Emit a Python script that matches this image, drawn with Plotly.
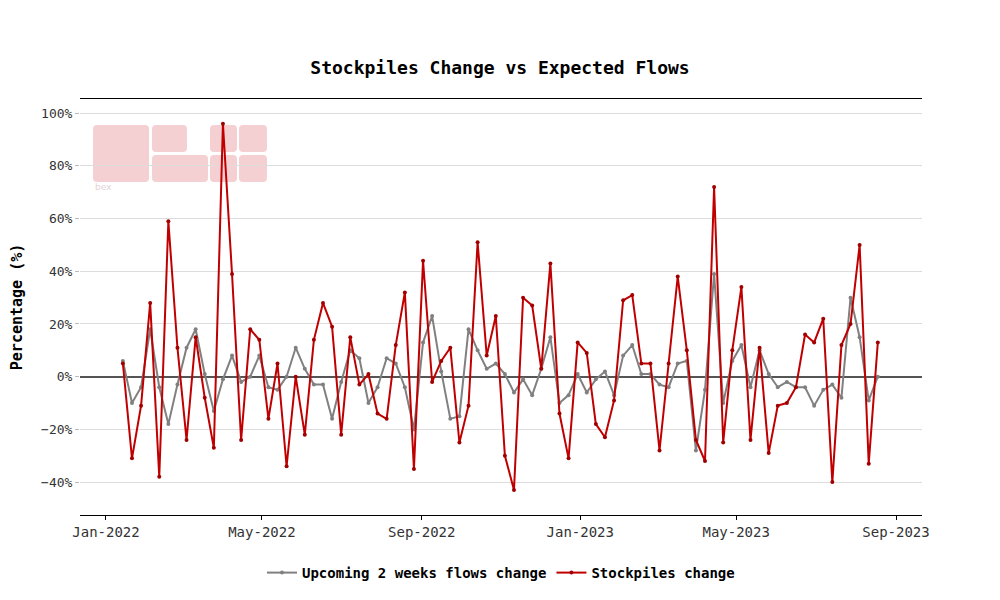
import pandas as pd
import plotly.graph_objects as go

start_date = "2022-01-14"
n_weeks = 84
dates = pd.date_range(start_date, periods=n_weeks, freq="7D")

flows_change = [6, -10, -4, 18, -4, -18, -3, 11, 18, 1, -13, -1, 8, -2, 0, 8, -4, -5, 0, 11,
                3, -3, -3, -16, -2, 10, 7, -10, -4, 7, 5, -4, -20, 13, 23, 2, -16, -15, 18, 10, 3, 5, 1,
                -6, -1, -7, 3, 15, -10, -7, 1, -6, -1, 2, -7, 8, 12, 1, 1, -3, -4, 5, 6, -28, -5, 39,
                -10, 6, 12, -4, 10, 1, -4, -2, -4, -4, -11, -5, -3, -8, 30, 15, -9, 0]

stockpiles_change = [5, -31, -11, 28, -38, 59, 11, -24, 15, -8, -27, 96, 39, -24, 18, 14, -16, 5, -34, 0,
                     -22, 14, 28, 19, -22, 15, -3, 1, -14, -16, 12, 32, -35, 44, -2, 6, 11, -25, -11, 51, 8, 23, -30,
                     -43, 30, 27, 3, 43, -14, -31, 13, 9, -18, -23, -9, 29, 31, 5, 5, -28, 5, 38, 10, -24, -32, 72,
                     -25, 10, 34, -24, 11, -29, -11, -10, -4, 16, 13, 22, -40, 12, 20, 50, -33, 13]

FONT = "DejaVu Sans Mono"
GREY = "#808080"
RED = "#C00000"

fig = go.Figure()
fig.add_trace(go.Scatter(x=dates, y=flows_change, mode="lines+markers",
                         name="Upcoming 2 weeks flows change",
                         line=dict(color=GREY, width=2), marker=dict(size=4, color=GREY)))
fig.add_trace(go.Scatter(x=dates, y=stockpiles_change, mode="lines+markers",
                         name="Stockpiles change",
                         line=dict(color=RED, width=2), marker=dict(size=4, color="#A00000")))

# page offset of the figure inside the browser page (body margin)
OFF = 8
# target plot area in page pixels
PL, PR, PT, PB = 80, 922, 99, 515
W, H = PR - PL, PB - PT
FW, FH = 1000, 600


def rrect(x0, y0, x1, y1, r=4):
    X = lambda px: (px - PL) / W
    Y = lambda py: (PB - py) / H
    p = (f"M {X(x0 + r)} {Y(y0)} L {X(x1 - r)} {Y(y0)} Q {X(x1)} {Y(y0)} {X(x1)} {Y(y0 + r)} "
         f"L {X(x1)} {Y(y1 - r)} Q {X(x1)} {Y(y1)} {X(x1 - r)} {Y(y1)} "
         f"L {X(x0 + r)} {Y(y1)} Q {X(x0)} {Y(y1)} {X(x0)} {Y(y1 - r)} "
         f"L {X(x0)} {Y(y0 + r)} Q {X(x0)} {Y(y0)} {X(x0 + r)} {Y(y0)} Z")
    return dict(type="path", path=p, xref="paper", yref="paper", layer="below",
                fillcolor="#F4D0D3", line=dict(width=0))


blocks = [(93, 125, 149, 182), (152, 125, 187, 152), (152, 155, 208, 182),
          (210, 125, 237, 152), (239, 125, 267, 152), (210, 155, 237, 182), (239, 155, 267, 182)]
shapes = [rrect(*b) for b in blocks]

fig.update_layout(
    width=FW, height=FH,
    paper_bgcolor="white", plot_bgcolor="white",
    margin=dict(l=PL - OFF, r=FW - (PR - OFF), t=PT - OFF, b=FH - (PB - OFF)),
    title=dict(text="<b>Stockpiles Change vs Expected Flows</b>", x=(500 - OFF) / FW, xanchor="center",
               y=1 - (68 - OFF) / FH, yanchor="middle", font=dict(family=FONT, size=18, color="black")),
    font=dict(family=FONT, size=14, color="#333"),
    shapes=shapes,
    annotations=[dict(text="bex", xref="paper", yref="paper", x=(93 - PL) / W, y=(PB - 187) / H,
                      xanchor="left", yanchor="middle", showarrow=False,
                      font=dict(family="DejaVu Sans", size=9, color="#E3D3D4"))],
    showlegend=True,
    legend=dict(orientation="h", x=0.5, xanchor="center", y=(PB - 573) / H, yanchor="middle",
                font=dict(family=FONT, size=14, color="black", weight="bold")),
    xaxis=dict(type="date", range=["2021-12-12", "2023-09-21"], tick0="2022-01-01", dtick="M4",
               tickformat="%b-%Y", showgrid=False, showline=True, mirror=True, linecolor="black",
               linewidth=1, ticks="outside", ticklen=4, tickcolor="black", automargin=False,
               tickfont=dict(family=FONT, size=14, color="#333")),
    yaxis=dict(range=[-52.5, 105.4], dtick=20, tick0=0, ticksuffix="%", showgrid=True,
               gridcolor="#DDDDDD", gridwidth=1, zeroline=True, zerolinecolor="#555555",
               zerolinewidth=1.5, showline=False, ticks="outside", ticklen=4, tickcolor="#BBBBBB",
               automargin=False,
               tickfont=dict(family=FONT, size=13, color="#333"),
               title=dict(text="<b>Percentage (%)</b>", font=dict(family=FONT, size=15, color="black"),
                          standoff=23)),
)

fig.write_html("out.html")
